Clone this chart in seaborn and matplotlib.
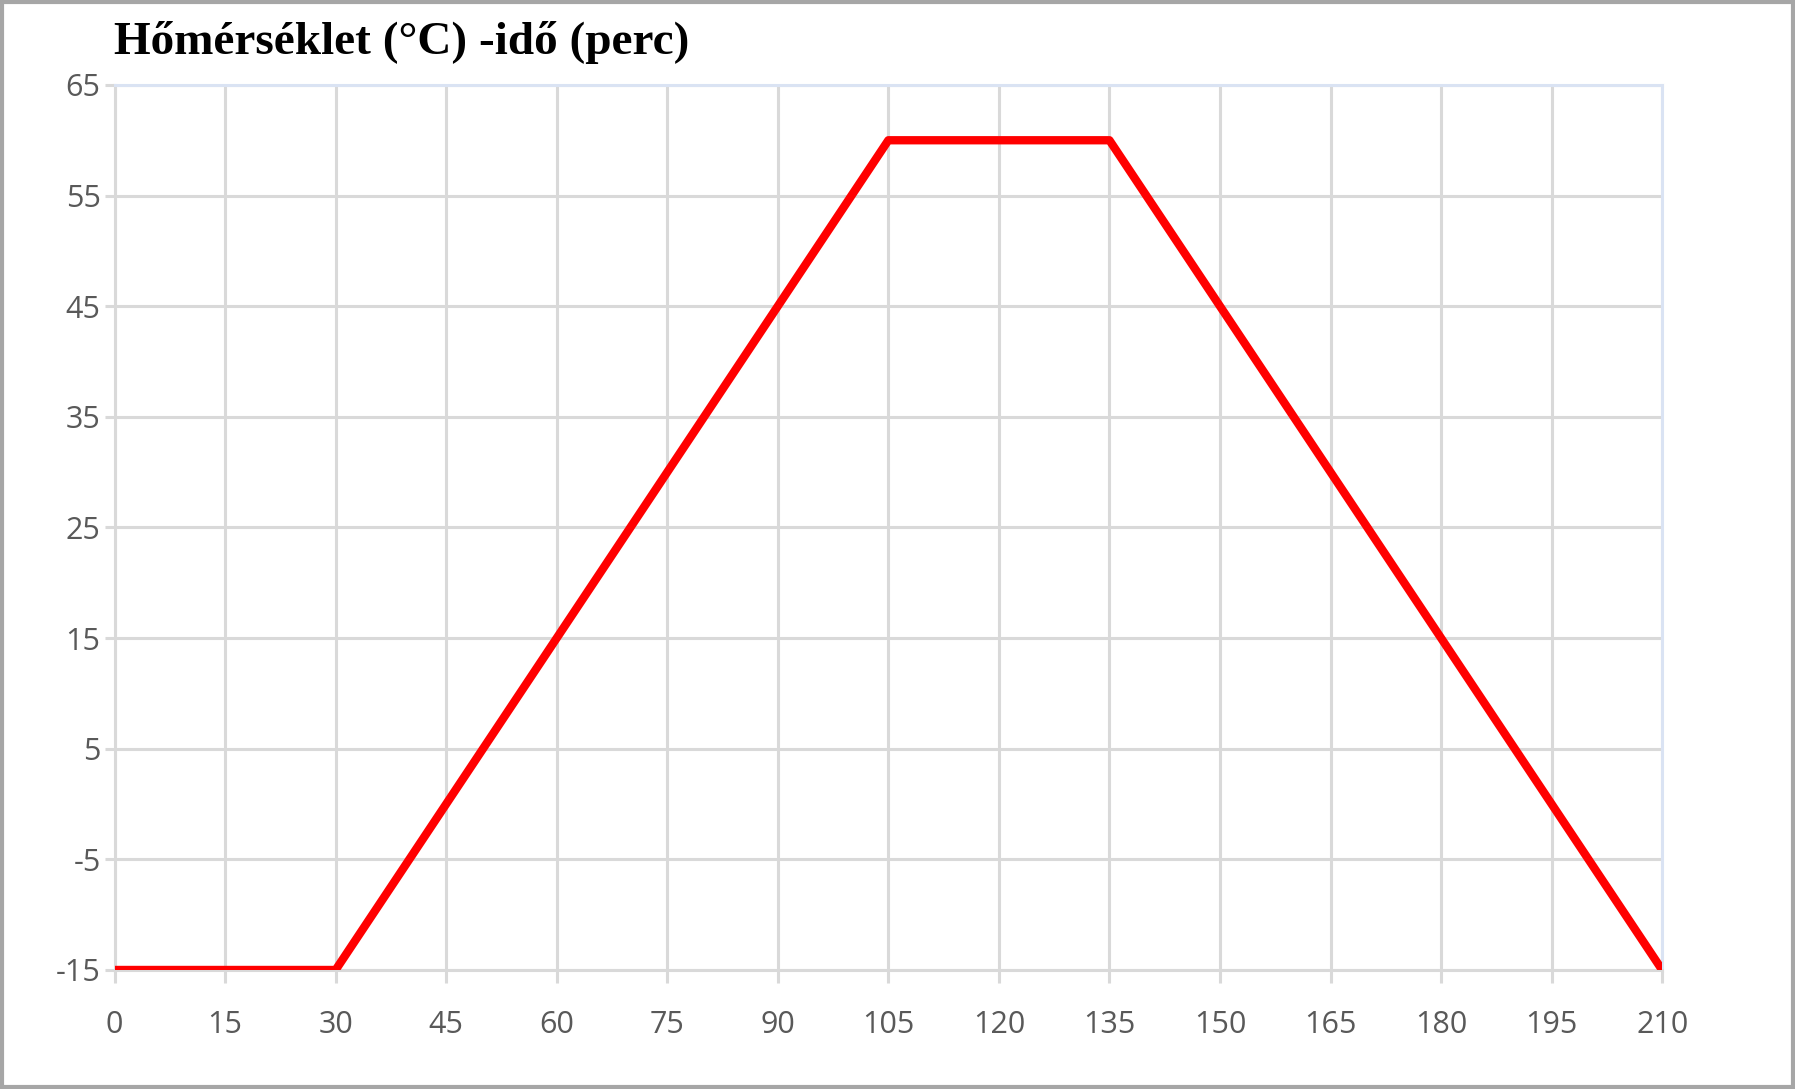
import matplotlib
matplotlib.use("Agg")
import matplotlib.pyplot as plt
import seaborn as sns
import pandas as pd
from matplotlib.patches import Rectangle

# Data
time_min = [0, 30, 105, 135, 210]
temp_c = [-15, -15, 60, 60, -15]
x_ticks = [0, 15, 30, 45, 60, 75, 90, 105, 120, 135, 150, 165, 180, 195, 210]
y_ticks = [-15, -5, 5, 15, 25, 35, 45, 55, 65]
title = "Hőmérséklet (°C) -idő (perc)"

df = pd.DataFrame({"t": time_min, "T": temp_c})

sns.set_theme(style="white")
plt.rcParams["font.family"] = ["Open Sans", "DejaVu Sans"]

fig = plt.figure(figsize=(17.95, 10.89), dpi=100)
ax = fig.add_axes([0.0638, 0.1093, 0.8622, 0.8127])

grid_c = "#d9d9d9"
sns.lineplot(data=df, x="t", y="T", ax=ax, color="#ff0000", linewidth=6, zorder=5)

ax.set_xlim(0, 210)
ax.set_ylim(-15, 65)
ax.set_xticks(x_ticks)
ax.set_yticks(y_ticks)
ax.set_xticklabels([str(v) for v in x_ticks])
ax.set_yticklabels([str(v) for v in y_ticks])
ax.grid(True, color=grid_c, linewidth=2.2)
ax.tick_params(axis="both", which="both", width=2.2, color=grid_c,
               labelsize=22, labelcolor="#595959", bottom=True, left=True)
ax.tick_params(axis="x", length=9, pad=20)
ax.tick_params(axis="y", length=7, pad=3)
ax.set_xlabel("")
ax.set_ylabel("")

for side in ["left", "bottom"]:
    ax.spines[side].set_color(grid_c)
    ax.spines[side].set_linewidth(2.2)
for side in ["top", "right"]:
    ax.spines[side].set_color("#dae3f3")
    ax.spines[side].set_linewidth(2.2)
    ax.spines[side].set_visible(True)

fig.text(0.0635, 0.961, title, fontsize=34, fontweight="bold",
         family=["Liberation Serif", "DejaVu Serif"], color="black",
         ha="left", va="center")

fig.patches.append(Rectangle((0.001, 0.002), 0.998, 0.996, transform=fig.transFigure,
                             fill=False, edgecolor="#a6a6a6", linewidth=3))

fig.savefig("out.png", dpi=100)
